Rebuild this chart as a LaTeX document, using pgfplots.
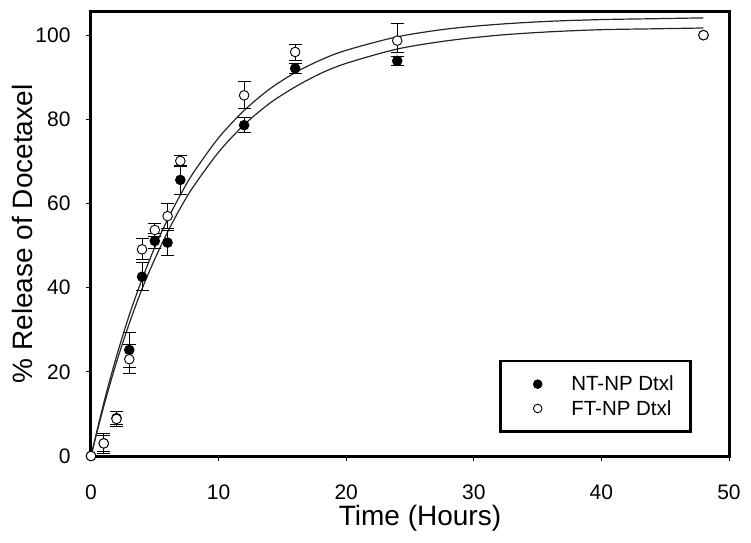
\documentclass[border=0pt]{standalone}
\usepackage{pgfplots}
\pgfplotsset{compat=1.18}
\usepackage{fontspec}
\setmainfont{Liberation Sans}
\begin{document}
\begin{tikzpicture}
\begin{axis}[
 scale only axis, width=638bp, height=444bp,
 xmin=0, xmax=50, ymin=0, ymax=105.5,
 clip=false,
 axis line style={line width=3bp},
 xtick={0,10,...,50}, ytick={0,20,...,100},
 tick align=outside, tick pos=left,
 major tick length=5bp,
 tick style={line width=1bp, black},
 ticklabel style={font=\fontsize{21bp}{24bp}\selectfont},
 /pgf/number format/assume math mode=true,
 xticklabel style={yshift=-20bp},
 yticklabel style={xshift=-12bp},
 xlabel={Time (Hours)}, ylabel={\% Release of Docetaxel},
 label style={font=\fontsize{28bp}{32bp}\selectfont},
 xlabel style={yshift=1bp, xshift=10bp},
 ylabel style={yshift=-4bp},
 legend cell align=left,
 legend style={at={(0.942,0.052)}, anchor=south east, draw=black, line width=2.5bp,
   font=\fontsize{20.5bp}{24bp}\selectfont, inner xsep=15bp, inner ysep=13bp, row sep=4bp,
   /tikz/every odd column/.append style={column sep=26bp}},
 legend image code/.code={\path (-21bp,0bp) (4.3bp,0bp);\draw[#1, line width=0.9bp, mark size=4.3bp] plot coordinates {(0bp,0bp)};},
]
% fitted curves
\addplot[forget plot, smooth, line width=1.2bp, black!85] coordinates {
(0,0) (1,12.6) (2,23.7) (3,33.5) (4,42.0) (5,49.6) (6,56.2) (7,62.0) (8,67.2) (10,75.6)
(12,82.1) (14,87.2) (16,91.1) (18,94.1) (20,96.4) (24,99.6) (28,101.5) (32,102.6)
(36,103.3) (40,103.7) (44,103.9) (48,104.1)};
\addplot[forget plot, smooth, line width=1.2bp, black!85] coordinates {
(0,0) (1,11.8) (2,22.3) (3,31.5) (4,39.7) (5,46.8) (6,53.2) (7,58.9) (8,63.9) (10,72.2)
(12,78.7) (14,83.8) (16,87.7) (18,90.9) (20,93.3) (24,96.7) (28,98.7) (32,100.0)
(36,100.8) (40,101.3) (44,101.5) (48,101.7)};
% points without error bars
\addplot[forget plot, only marks, mark=*, mark size=4.8bp, mark options={fill=black, draw=black, line width=0.9bp}] coordinates {(0,0) (48,100)};
% NT-NP Dtxl
\addplot[only marks, mark=*, mark size=4.8bp, mark options={fill=black, draw=black, line width=0.9bp},
  error bars/.cd, y dir=both, y explicit,
  error bar style={black, line width=0.9bp},
  error mark options={rotate=90, mark size=6.5bp, line width=0.9bp, black}]
 coordinates {
 (1,3) +- (0,2.0)
 (2,9) +- (0,1.5)
 (3,25.2) +- (0,4.1)
 (4,42.6) +- (0,3.3)
 (5,51.1) +- (0,1.8)
 (6,50.7) +- (0,3.0)
 (7,65.6) +- (0,3.4)
 (12,78.6) +- (0,1.8)
 (16,92.1) +- (0,1.2)
 (24,93.9) +- (0,1.0)
 };
\addlegendentry{NT-NP Dtxl}
% FT-NP Dtxl
\addplot[only marks, mark=*, mark size=4.8bp, mark options={fill=white, draw=black, line width=0.9bp},
  error bars/.cd, y dir=both, y explicit,
  error bar style={black, line width=0.9bp},
  error mark options={rotate=90, mark size=6.5bp, line width=0.9bp, black}]
 coordinates {
 (1,3.0) +- (0,2.4)
 (2,8.8) +- (0,1.8)
 (3,23.0) +- (0,3.5)
 (4,49.1) +- (0,2.5)
 (5,53.7) +- (0,1.5)
 (6,57.0) +- (0,3.0)
 (7,70.1) +- (0,1.3)
 (12,85.7) +- (0,3.2)
 (16,96.0) +- (0,1.9)
 (24,98.7) += (0,4.1) -= (0,2.7)
 };
\addlegendentry{FT-NP Dtxl}
\addplot[forget plot, only marks, mark=*, mark size=4.8bp, mark options={fill=white, draw=black, line width=0.9bp}] coordinates {(0,0) (48,100)};
\end{axis}
\path (current axis.south west) +(-91bp,-87bp) (current axis.north east) +(22bp,12bp);
\end{tikzpicture}
\end{document}
